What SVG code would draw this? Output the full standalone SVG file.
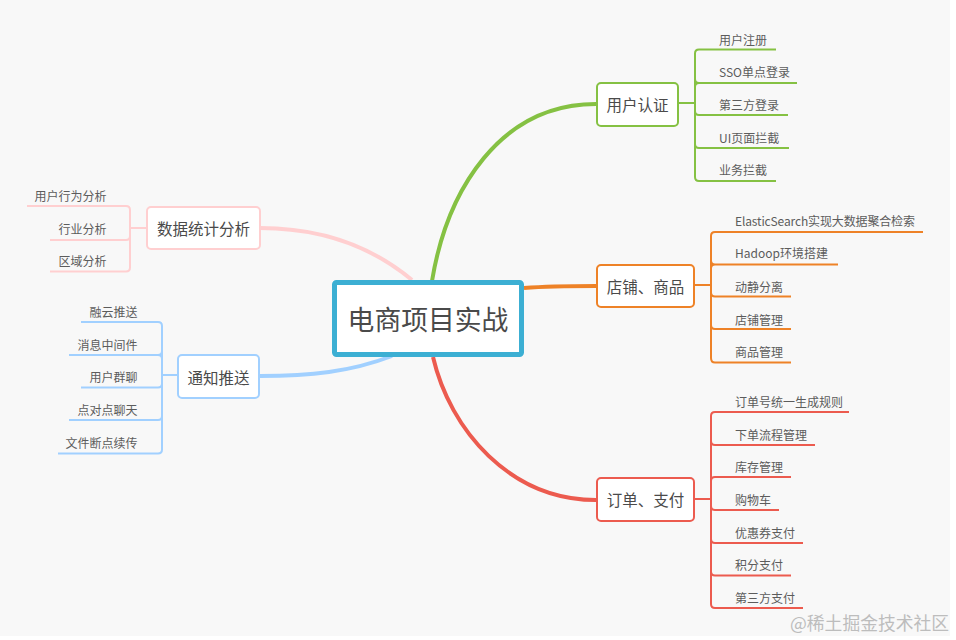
<svg xmlns="http://www.w3.org/2000/svg" width="956" height="640" viewBox="0 0 956 640">
<style>
text{font-family:"Noto Sans CJK SC","Noto Sans",sans-serif;fill:#5c5c5c;font-size:12px}
.n{font-size:15.500px;fill:#4a4a4a;text-anchor:middle}
.r{text-anchor:end}
.b{fill:#fff;stroke-width:2}
.l{fill:none;stroke-width:2}
.c{fill:none;stroke-width:4;stroke-linecap:butt}
.g{stroke:#85c143}.o{stroke:#ee8227}.e{stroke:#ec5b4f}.p{stroke:#ffcfd0}.u{stroke:#a1d0ff}
</style>
<rect width="956" height="640" fill="#fff"/>
<rect width="950" height="636" fill="#f8f8f8"/>
<g id="connectors">
<path class="c g" d="M432 281C447 190 500 104 596 104"/>
<path class="c o" d="M524 288C550 286 570 286 596 286"/>
<path class="c e" d="M433 357C450 430 510 500 596 500"/>
<path class="c p" d="M412 280C370 245 320 228 260 228"/>
<path class="c u" d="M392 356C350 372 310 376 260 376"/>
<g class="l g"><path d="M678 103H695M776 49.500H699Q695 49.500 695 53.500V177Q695 181 699 181H776M797 83H699Q695 83 695 79M695 87Q695 83 699 83M788 115H699Q695 115 695 111M789 148H699Q695 148 695 144"/></g>
<g class="l o"><path d="M694 285H711M923 232H715Q711 232 711 236V358Q711 362.500 715 362.500H791M838 264.500H715Q711 264.500 711 260.500M711 268.500Q711 264.500 715 264.500M791 296.500H715Q711 296.500 711 292.500M791 329H715Q711 329 711 325"/></g>
<g class="l e"><path d="M694 499H711M849 412H715Q711 412 711 416V604Q711 608 715 608H803M815 445H715Q711 445 711 441M791 477H715Q711 477 711 481M779 510H715Q711 510 711 506M803 543H715Q711 543 711 539M791 575.500H715Q711 575.500 711 571.500"/></g>
<g class="l p"><path d="M147 228H130M27 206H126Q130 206 130 210V267.500Q130 271.500 126 271.500H50M50 240H126Q130 240 130 236"/></g>
<g class="l u"><path d="M178 375H162M81 322H158Q162 322 162 326V449.500Q162 453.500 158 453.500H58M69 355H158Q162 355 162 351M162 359Q162 355 158 355M81 387.500H158Q162 387.500 162 383.500M69 420H158Q162 420 162 416"/></g>
</g>
<g id="root"><rect x="334.500" y="282.500" width="187" height="72" rx="2" fill="#fff" stroke="#3cafd3" stroke-width="5"/><text x="428" y="330" style="font-size:26.800px;fill:#4a4a4a;text-anchor:middle">电商项目实战</text></g>
<g id="n-auth"><rect class="b g" x="597" y="83" width="81" height="43" rx="4"/><text class="n" x="637.500" y="111">用户认证</text></g>
<g id="n-shop"><rect class="b o" x="597" y="265" width="97" height="42" rx="4"/><text class="n" x="645.500" y="293">店铺、商品</text></g>
<g id="n-order"><rect class="b e" x="597" y="478" width="97" height="43" rx="4"/><text class="n" x="645.500" y="506">订单、支付</text></g>
<g id="n-stat"><rect class="b p" x="147" y="207" width="113" height="42" rx="4"/><text class="n" x="203.500" y="235">数据统计分析</text></g>
<g id="n-push"><rect class="b u" x="178" y="355" width="81" height="43" rx="4"/><text class="n" x="218.500" y="384">通知推送</text></g>
<g id="leaves-auth">
<text x="719" y="45">用户注册</text><text x="719" y="77">SSO单点登录</text><text x="719" y="110">第三方登录</text><text x="719" y="143">UI页面拦截</text><text x="719" y="175">业务拦截</text></g>
<g id="leaves-shop">
<text x="735" y="226" textLength="180">ElasticSearch实现大数据聚合检索</text><text x="735" y="258">Hadoop环境搭建</text><text x="735" y="292">动静分离</text><text x="735" y="325">店铺管理</text><text x="735" y="357">商品管理</text></g>
<g id="leaves-order">
<text x="735" y="407">订单号统一生成规则</text><text x="735" y="440">下单流程管理</text><text x="735" y="472">库存管理</text><text x="735" y="505">购物车</text><text x="735" y="538">优惠券支付</text><text x="735" y="570">积分支付</text><text x="735" y="603">第三方支付</text></g>
<g id="leaves-stat">
<text class="r" x="106.500" y="201">用户行为分析</text><text class="r" x="106.500" y="234">行业分析</text><text class="r" x="106.500" y="266">区域分析</text></g>
<g id="leaves-push">
<text class="r" x="137.500" y="317">融云推送</text><text class="r" x="137.500" y="350">消息中间件</text><text class="r" x="137.500" y="382">用户群聊</text><text class="r" x="137.500" y="415">点对点聊天</text><text class="r" x="137.500" y="448">文件断点续传</text></g>
<text x="790" y="630" style="font-size:17.800px;fill:#bdbdbd">@稀土掘金技术社区</text>
</svg>
